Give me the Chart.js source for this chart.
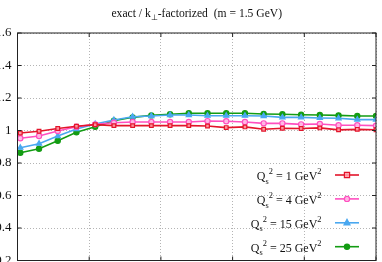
<!DOCTYPE html>
<html>
<head>
<meta charset="utf-8">
<script src="https://cdn.jsdelivr.net/npm/chart.js"></script>
<title>exact / kT-factorized (m = 1.5 GeV)</title>
<style>
    html, body { margin: 0; padding: 0; width: 382px; height: 262px; overflow: hidden; background: #fff; }
    #wrap { position: absolute; left: -12px; top: 0; width: 400px; height: 300px; }
</style>
</head>
<body>
<div id="wrap"><canvas id="ratioChart"></canvas></div>

<script>
    // x tick labels are cut off in the picture, so the points are just numbered bins
    var bins = [1, 2, 3, 4, 5, 6, 7, 8, 9, 10, 11, 12, 13, 14, 15, 16, 17, 18, 19, 20];
    var ratioQs1  = [0.985, 0.995, 1.012, 1.026, 1.036, 1.030, 1.030, 1.030, 1.030, 1.030, 1.028, 1.018, 1.022, 1.008, 1.014, 1.012, 1.016, 1.004, 1.007, 1.005];
    var ratioQs4  = [0.952, 0.966, 0.997, 1.023, 1.038, 1.048, 1.052, 1.052, 1.052, 1.052, 1.058, 1.057, 1.052, 1.044, 1.044, 1.038, 1.040, 1.032, 1.032, 1.030];
    var ratioQs15 = [0.894, 0.919, 0.966, 1.009, 1.040, 1.065, 1.085, 1.089, 1.095, 1.095, 1.091, 1.091, 1.091, 1.089, 1.081, 1.081, 1.077, 1.075, 1.067, 1.067];
    var ratioQs25 = [0.863, 0.888, 0.937, 0.989, 1.023, 1.060, 1.081, 1.093, 1.100, 1.106, 1.106, 1.106, 1.106, 1.102, 1.100, 1.097, 1.095, 1.093, 1.089, 1.089];
    var yTicks = [0.2, 0.4, 0.6, 0.8, 1, 1.2, 1.4, 1.6];
    var seriesNames = ['1', '4', '15', '25'];

    var FONT = '"Liberation Serif", "Times New Roman", serif';
    var colors = ['#e3142b', '#ff4fc0', '#4aa8f0', '#139c13'];
    var styles = ['rect', 'circle', 'triangle', 'circle'];
    var fills  = ['rgba(255,160,170,0.9)', 'rgba(255,190,230,0.9)', '#4aa8f0', '#139c13'];
    var sizes  = [2.6, 2.6, 3, 2.6];
    var allSeries = [ratioQs1, ratioQs4, ratioQs15, ratioQs25];

    var toPoints = function(vals){
        return vals.map(function(v, i){ return {x: bins[i], y: v}; });
    };

    var datasets = allSeries.map(function(vals, k){
        return {
            label: 'Qs2 = ' + seriesNames[k] + ' GeV2',
            data: toPoints(vals),
            borderColor: colors[k],
            backgroundColor: fills[k],
            pointBackgroundColor: fills[k],
            pointBorderColor: colors[k],
            pointStyle: styles[k],
            pointRadius: sizes[k],
            pointBorderWidth: 1.2,
            borderWidth: 1.6,
            tension: 0,
        };
    });

    // text with simple sub/superscripts: runs of {t, s:'sub'|'sup'}
    var drawRuns = function(ctx, runs, x, y, align, size){
        var total = 0;
        runs.forEach(function(r){
            ctx.font = (r.s ? size * 0.7 : size) + 'px ' + FONT;
            r.w = ctx.measureText(r.t).width;
            total += r.w;
        });
        var cx = align == 'right' ? x - total : (align == 'center' ? x - total / 2 : x);
        runs.forEach(function(r){
            ctx.font = (r.s ? size * 0.7 : size) + 'px ' + FONT;
            var dy = r.s == 'sub' ? size * 0.3 : (r.s == 'sup' ? -size * 0.48 : 0);
            ctx.fillText(r.t, cx, y + dy);
            cx += r.w;
        });
    };

    var drawMarker = function(ctx, style, x, y, r){
        ctx.beginPath();
        if (style == 'rect') {
            ctx.rect(x - r, y - r, 2 * r, 2 * r);
        } else if (style == 'triangle') {
            ctx.moveTo(x, y - r * 1.15);
            ctx.lineTo(x + r, y + r * 0.7);
            ctx.lineTo(x - r, y + r * 0.7);
            ctx.closePath();
        } else {
            ctx.arc(x, y, r, 0, Math.PI * 2);
        }
        ctx.fill();
        ctx.stroke();
    };

    var framePlugin = {
        id: 'gnuplotFrame',
        afterDraw: function(chart){
            var ctx = chart.ctx;
            var a = chart.chartArea;
            ctx.save();

            // frame
            ctx.strokeStyle = '#222';
            ctx.lineWidth = 1;
            ctx.strokeRect(a.left, a.top, a.right - a.left, a.bottom - a.top);

            // inward tick marks on all four sides
            var ys = chart.scales.y, xs = chart.scales.x;
            ctx.beginPath();
            yTicks.forEach(function(v){
                var py = ys.getPixelForValue(v);
                ctx.moveTo(a.left, py); ctx.lineTo(a.left + 4, py);
                ctx.moveTo(a.right, py); ctx.lineTo(a.right - 4, py);
            });
            xs.ticks.forEach(function(t){
                var px = xs.getPixelForValue(t.value);
                ctx.moveTo(px, a.top); ctx.lineTo(px, a.top + 4);
                ctx.moveTo(px, a.bottom); ctx.lineTo(px, a.bottom - 4);
            });
            ctx.stroke();

            // title
            ctx.fillStyle = '#111';
            ctx.textBaseline = 'alphabetic';
            drawRuns(ctx, [
                {t: 'exact / k'}, {t: '\u22A5', s: 'sub'}, {t: '-factorized  (m = 1.5 GeV)'}
            ], (a.left + a.right) / 2, 17, 'center', 11.6);

            // legend, bottom right inside the frame
            for (var k = 0; k < 4; k++) {
                var ly = 175 + k * 23.9;
                ctx.fillStyle = '#111';
                drawRuns(ctx, [
                    {t: 'Q'}, {t: 's', s: 'sub'}, {t: '2', s: 'sup'},
                    {t: ' = ' + seriesNames[k] + ' GeV'}, {t: '2', s: 'sup'}
                ], 333.5, ly + 5, 'right', 12);

                ctx.strokeStyle = colors[k];
                ctx.lineWidth = 1.6;
                ctx.beginPath();
                ctx.moveTo(347, ly); ctx.lineTo(371, ly);
                ctx.stroke();
                ctx.fillStyle = fills[k];
                ctx.lineWidth = 1.2;
                drawMarker(ctx, styles[k], 359, ly, sizes[k]);
            }
            ctx.restore();
        }
    };

    var ctx = document.getElementById('ratioChart');
    var ratioChart = new Chart(ctx, {
        type: 'line',
        data: { datasets: datasets },
        options: {
            responsive: true,
            maintainAspectRatio: false,
            animation: false,
            layout: { padding: { top: 33, right: 12, bottom: 39.5, left: 0 } },
            plugins: {
                legend: { display: false },
                title: { display: false },
                tooltip: { enabled: false },
            },
            scales: {
                x: {
                    type: 'linear',
                    min: 0.85,
                    max: 20,
                    afterBuildTicks: function(scale){
                        // five equal grid intervals across the frame
                        var step = (scale.max - scale.min) / 5;
                        var t = [];
                        for (var i = 0; i <= 5; i++) t.push({value: scale.min + i * step});
                        scale.ticks = t;
                    },
                    afterFit: function(scale){ scale.height = 0; },
                    ticks: { display: false },
                    grid: { color: '#b4b4b4', lineWidth: 1, drawTicks: false },
                    border: { display: false, dash: [1, 2] },
                },
                y: {
                    min: 0.2,
                    max: 1.6,
                    afterBuildTicks: function(scale){
                        scale.ticks = yTicks.map(function(v){ return {value: v}; });
                    },
                    afterFit: function(scale){ scale.width = 29.5; },
                    ticks: {
                        color: '#111',
                        padding: 6,
                        font: { family: FONT, size: 13 },
                        callback: function(v){ return String(Math.round(v * 10) / 10); }
                    },
                    grid: { color: '#b4b4b4', lineWidth: 1, drawTicks: false },
                    border: { display: false, dash: [1, 2] },
                }
            }
        },
        plugins: [framePlugin]
    });
</script>
</body>
</html>
